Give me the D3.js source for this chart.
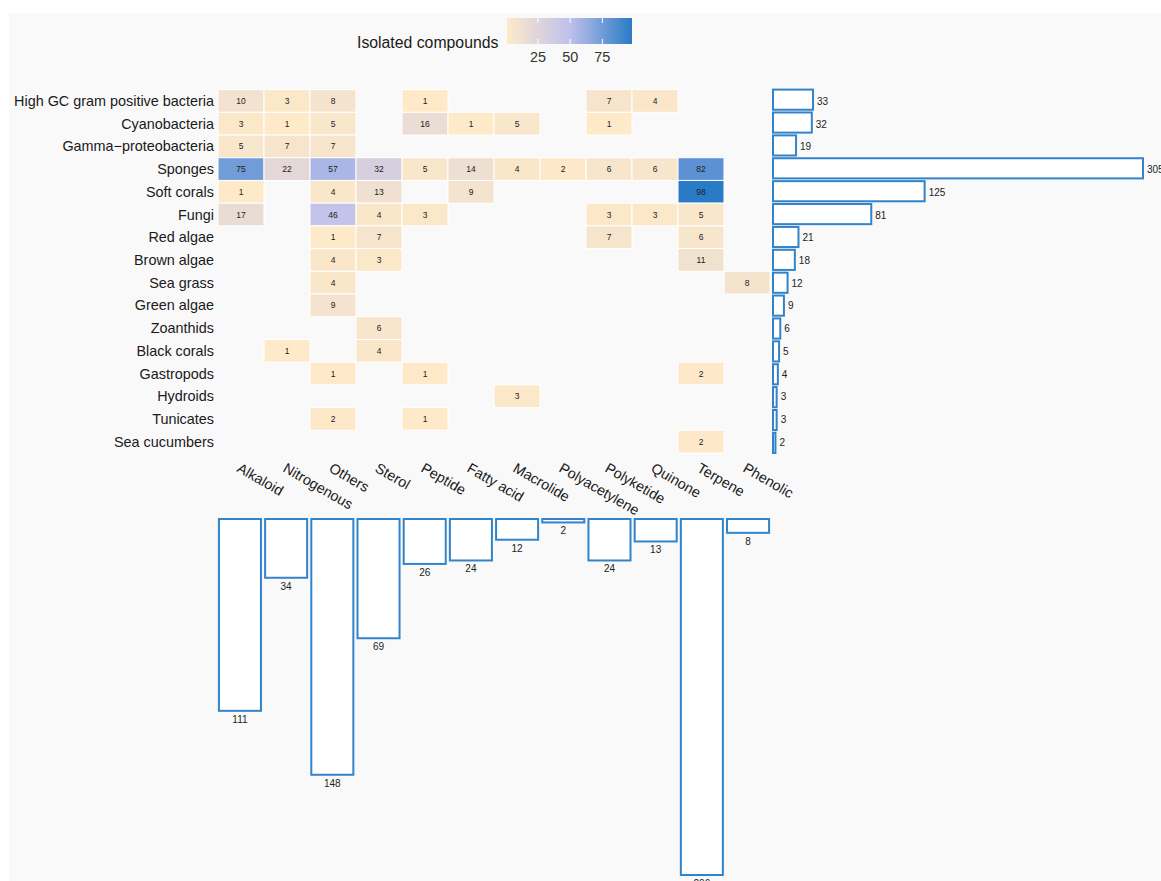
<!DOCTYPE html>
<html>
<head>
<meta charset="utf-8">
<script src="https://cdn.jsdelivr.net/npm/d3@7"></script>
<style>
  body { margin: 0; background: #fff; }
  text { font-family: "Liberation Sans", Arial, sans-serif; }
</style>
</head>
<body>
<svg id="chart" width="1161" height="881"></svg>
<script>
// source organisms (rows) and compound classes (columns)
var organisms = ["High GC gram positive bacteria", "Cyanobacteria", "Gamma\u2212proteobacteria", "Sponges",
  "Soft corals", "Fungi", "Red algae", "Brown algae", "Sea grass", "Green algae", "Zoanthids",
  "Black corals", "Gastropods", "Hydroids", "Tunicates", "Sea cucumbers"];
var classes = ["Alkaloid", "Nitrogenous", "Others", "Sterol", "Peptide", "Fatty acid", "Macrolide",
  "Polyacetylene", "Polyketide", "Quinone", "Terpene", "Phenolic"];

// counts per organism, one entry per class (null = none)
var counts = [
  [10, 3, 8, null, 1, null, null, null, 7, 4, null, null],
  [3, 1, 5, null, 16, 1, 5, null, 1, null, null, null],
  [5, 7, 7, null, null, null, null, null, null, null, null, null],
  [75, 22, 57, 32, 5, 14, 4, 2, 6, 6, 82, null],
  [1, null, 4, 13, null, 9, null, null, null, null, 98, null],
  [17, null, 46, 4, 3, null, null, null, 3, 3, 5, null],
  [null, null, 1, 7, null, null, null, null, 7, null, 6, null],
  [null, null, 4, 3, null, null, null, null, null, null, 11, null],
  [null, null, 4, null, null, null, null, null, null, null, null, 8],
  [null, null, 9, null, null, null, null, null, null, null, null, null],
  [null, null, null, 6, null, null, null, null, null, null, null, null],
  [null, 1, null, 4, null, null, null, null, null, null, null, null],
  [null, null, 1, null, 1, null, null, null, null, null, 2, null],
  [null, null, null, null, null, null, 3, null, null, null, null, null],
  [null, null, 2, null, 1, null, null, null, null, null, null, null],
  [null, null, null, null, null, null, null, null, null, null, 2, null]
];

// marginal totals as printed
var organismTotals = [33, 32, 19, 305, 125, 81, 21, 18, 12, 9, 6, 5, 4, 3, 3, 2];
var classTotals = [111, 34, 148, 69, 26, 24, 12, 2, 24, 13, 206, 8];

var legendTicks = [25, 50, 75];

var svg = d3.select("#chart");
var blue = "#3283c9";

svg.append("rect").attr("x", 9).attr("y", 13).attr("width", 1161).attr("height", 881)
  .attr("fill", "#f9f9f9");

var x = d3.scaleBand().domain(classes).range([218, 770]);
var y = d3.scaleBand().domain(organisms).range([89.6, 453]);
var color = d3.scaleLinear().domain([1, 50, 98])
  .range(["#feeac8", "#bfc0ec", "#2a7bc6"]);

// heatmap cells
var cells = [];
counts.forEach(function (row, i) {
  row.forEach(function (v, j) {
    if (v != null) cells.push({ org: organisms[i], cls: classes[j], v: v });
  });
});

var g = svg.append("g");
g.selectAll("rect.cell")
  .data(cells)
  .enter()
  .append("rect")
  .attr("class", "cell")
  .attr("x", function (d) { return x(d.cls); })
  .attr("y", function (d) { return y(d.org); })
  .attr("width", x.bandwidth())
  .attr("height", y.bandwidth())
  .attr("fill", function (d) { return color(d.v); })
  .attr("stroke", "#fff")
  .attr("stroke-width", 1);

g.selectAll("text.cell")
  .data(cells)
  .enter()
  .append("text")
  .attr("x", function (d) { return x(d.cls) + x.bandwidth() / 2; })
  .attr("y", function (d) { return y(d.org) + y.bandwidth() / 2 + 3; })
  .attr("text-anchor", "middle")
  .attr("font-size", 8.5)
  .attr("fill", "#222")
  .text(function (d) { return d.v; });

// row labels
svg.selectAll("text.row")
  .data(organisms)
  .enter()
  .append("text")
  .attr("x", 214)
  .attr("y", function (d) { return y(d) + y.bandwidth() / 2 + 5; })
  .attr("text-anchor", "end")
  .attr("font-size", 14.4)
  .attr("fill", "#1a1a1a")
  .text(function (d) { return d; });

// column labels
svg.selectAll("text.col")
  .data(classes)
  .enter()
  .append("text")
  .attr("transform", function (d) {
    return "translate(" + (x(d) + x.bandwidth() / 2 - 5) + ",471) rotate(30)";
  })
  .attr("font-size", 14.4)
  .attr("fill", "#1a1a1a")
  .text(function (d) { return d; });

// right bars: totals per organism
var xr = d3.scaleLinear().domain([0, 305]).range([773, 1143]);
var yr = d3.scaleBand().domain(organisms).range([89.6, 453]).paddingInner(0.12);

svg.selectAll("rect.rbar")
  .data(organisms)
  .enter()
  .append("rect")
  .attr("x", xr(0))
  .attr("y", function (d) { return yr(d); })
  .attr("width", function (d, i) { return xr(organismTotals[i]) - xr(0); })
  .attr("height", yr.bandwidth())
  .attr("fill", "#fff")
  .attr("stroke", blue)
  .attr("stroke-width", 2);

svg.selectAll("text.rbar")
  .data(organisms)
  .enter()
  .append("text")
  .attr("x", function (d, i) { return xr(organismTotals[i]) + 4; })
  .attr("y", function (d) { return y(d) + y.bandwidth() / 2 + 4; })
  .attr("font-size", 10)
  .attr("fill", "#222")
  .text(function (d, i) { return organismTotals[i]; });

// bottom bars: totals per compound class
var yb = d3.scaleLinear().domain([0, 206]).range([519, 875]);
var xb = d3.scaleBand().domain(classes).range([218, 770]).paddingInner(0.09).paddingOuter(0.02);

svg.selectAll("rect.bbar")
  .data(classes)
  .enter()
  .append("rect")
  .attr("x", function (d) { return xb(d); })
  .attr("y", yb(0))
  .attr("width", xb.bandwidth())
  .attr("height", function (d, i) { return yb(classTotals[i]) - yb(0); })
  .attr("fill", "#fff")
  .attr("stroke", blue)
  .attr("stroke-width", 2);

svg.selectAll("text.bbar")
  .data(classes)
  .enter()
  .append("text")
  .attr("x", function (d) { return xb(d) + xb.bandwidth() / 2; })
  .attr("y", function (d, i) { return yb(classTotals[i]) + 12; })
  .attr("text-anchor", "middle")
  .attr("font-size", 10)
  .attr("fill", "#222")
  .text(function (d, i) { return classTotals[i]; });

// legend
var lx = d3.scaleLinear().domain([1, 98]).range([507, 632]);
var defs = svg.append("defs");
var grad = defs.append("linearGradient").attr("id", "lg");
d3.range(0, 1.0001, 0.1).forEach(function (t) {
  grad.append("stop")
    .attr("offset", t)
    .attr("stop-color", color(1 + t * 97));
});
svg.append("rect")
  .attr("x", 507).attr("y", 18)
  .attr("width", 125).attr("height", 26)
  .attr("fill", "url(#lg)");
legendTicks.forEach(function (t) {
  svg.append("line").attr("x1", lx(t)).attr("x2", lx(t)).attr("y1", 18).attr("y2", 23)
    .attr("stroke", "#fff").attr("stroke-width", 1);
  svg.append("line").attr("x1", lx(t)).attr("x2", lx(t)).attr("y1", 39).attr("y2", 44)
    .attr("stroke", "#fff").attr("stroke-width", 1);
});
svg.selectAll("text.lt")
  .data(legendTicks)
  .enter()
  .append("text")
  .attr("x", function (d) { return lx(d); })
  .attr("y", 62)
  .attr("text-anchor", "middle")
  .attr("font-size", 14.4)
  .attr("fill", "#333")
  .text(function (d) { return d; });
svg.append("text")
  .attr("x", 357).attr("y", 48)
  .attr("font-size", 15.8)
  .attr("fill", "#1a1a1a")
  .text("Isolated compounds");
</script>
</body>
</html>
